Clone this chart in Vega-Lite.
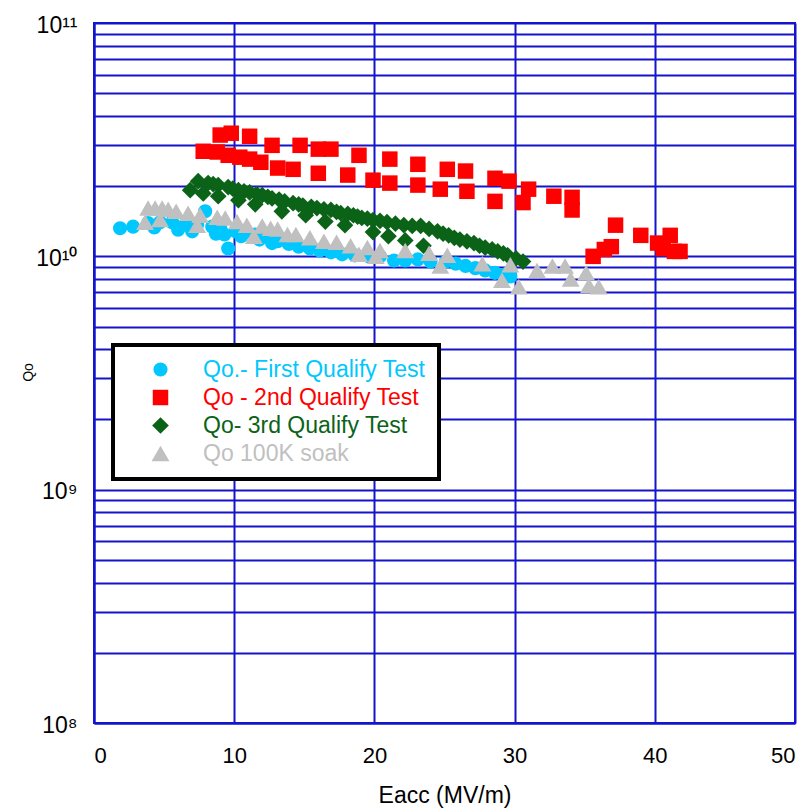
{
  "$schema": "https://vega.github.io/schema/vega-lite/v6.json",
  "width": 701,
  "height": 700,
  "autosize": {"type": "none"},
  "padding": {"left": 94, "top": 23, "right": 12, "bottom": 87},
  "background": "white",
  "config": {
    "view": {"stroke": "#1414cc", "strokeWidth": 2},
    "font": "Liberation Sans",
    "legend": {"strokeWidth": 4}
  },
  "data": {
    "values": [
      {"s":"Qo.- First Qualify Test","x":1.86,"q":1.32e10},{"s":"Qo.- First Qualify Test","x":2.79,"q":1.34e10},{"s":"Qo.- First Qualify Test","x":3.86,"q":1.39e10},{"s":"Qo.- First Qualify Test","x":4.3,"q":1.33e10},
      {"s":"Qo.- First Qualify Test","x":4.71,"q":1.40e10},{"s":"Qo.- First Qualify Test","x":5.57,"q":1.40e10},{"s":"Qo.- First Qualify Test","x":6.0,"q":1.30e10},{"s":"Qo.- First Qualify Test","x":6.5,"q":1.37e10},
      {"s":"Qo.- First Qualify Test","x":7.0,"q":1.28e10},{"s":"Qo.- First Qualify Test","x":7.36,"q":1.37e10},{"s":"Qo.- First Qualify Test","x":7.93,"q":1.56e10},{"s":"Qo.- First Qualify Test","x":8.43,"q":1.34e10},
      {"s":"Qo.- First Qualify Test","x":8.7,"q":1.25e10},{"s":"Qo.- First Qualify Test","x":9.0,"q":1.32e10},{"s":"Qo.- First Qualify Test","x":9.3,"q":1.24e10},{"s":"Qo.- First Qualify Test","x":9.57,"q":1.08e10},
      {"s":"Qo.- First Qualify Test","x":10.1,"q":1.28e10},{"s":"Qo.- First Qualify Test","x":10.5,"q":1.22e10},{"s":"Qo.- First Qualify Test","x":10.8,"q":1.27e10},{"s":"Qo.- First Qualify Test","x":11.5,"q":1.24e10},
      {"s":"Qo.- First Qualify Test","x":11.8,"q":1.18e10},{"s":"Qo.- First Qualify Test","x":12.2,"q":1.22e10},{"s":"Qo.- First Qualify Test","x":12.7,"q":1.14e10},{"s":"Qo.- First Qualify Test","x":13.1,"q":1.16e10},
      {"s":"Qo.- First Qualify Test","x":13.9,"q":1.13e10},{"s":"Qo.- First Qualify Test","x":14.6,"q":1.10e10},{"s":"Qo.- First Qualify Test","x":15.4,"q":1.08e10},{"s":"Qo.- First Qualify Test","x":16.1,"q":1.06e10},
      {"s":"Qo.- First Qualify Test","x":16.9,"q":1.04e10},{"s":"Qo.- First Qualify Test","x":17.7,"q":1.02e10},{"s":"Qo.- First Qualify Test","x":18.6,"q":1.01e10},{"s":"Qo.- First Qualify Test","x":19.6,"q":1.0e10},
      {"s":"Qo.- First Qualify Test","x":20.4,"q":1.0e10},{"s":"Qo.- First Qualify Test","x":21.4,"q":0.96e10},{"s":"Qo.- First Qualify Test","x":22.2,"q":0.96e10},{"s":"Qo.- First Qualify Test","x":23.1,"q":0.97e10},
      {"s":"Qo.- First Qualify Test","x":24.0,"q":0.95e10},{"s":"Qo.- First Qualify Test","x":25.1,"q":0.95e10},{"s":"Qo.- First Qualify Test","x":25.8,"q":0.93e10},{"s":"Qo.- First Qualify Test","x":26.5,"q":0.91e10},
      {"s":"Qo.- First Qualify Test","x":27.2,"q":0.89e10},{"s":"Qo.- First Qualify Test","x":27.9,"q":0.87e10},{"s":"Qo.- First Qualify Test","x":28.6,"q":0.85e10},{"s":"Qo.- First Qualify Test","x":29.4,"q":0.84e10},
      {"s":"Qo.- First Qualify Test","x":29.7,"q":0.82e10},

      {"s":"Qo - 2nd Qualify Test","x":7.79,"q":2.82e10},{"s":"Qo - 2nd Qualify Test","x":9.0,"q":3.31e10},{"s":"Qo - 2nd Qualify Test","x":9.79,"q":3.37e10},{"s":"Qo - 2nd Qualify Test","x":11.1,"q":3.27e10},
      {"s":"Qo - 2nd Qualify Test","x":8.79,"q":2.80e10},{"s":"Qo - 2nd Qualify Test","x":9.57,"q":2.71e10},{"s":"Qo - 2nd Qualify Test","x":10.4,"q":2.66e10},{"s":"Qo - 2nd Qualify Test","x":11.1,"q":2.61e10},
      {"s":"Qo - 2nd Qualify Test","x":11.9,"q":2.53e10},{"s":"Qo - 2nd Qualify Test","x":12.7,"q":2.99e10},{"s":"Qo - 2nd Qualify Test","x":13.1,"q":2.39e10},{"s":"Qo - 2nd Qualify Test","x":14.2,"q":2.36e10},
      {"s":"Qo - 2nd Qualify Test","x":14.7,"q":2.99e10},{"s":"Qo - 2nd Qualify Test","x":16.0,"q":2.88e10},{"s":"Qo - 2nd Qualify Test","x":16.9,"q":2.88e10},{"s":"Qo - 2nd Qualify Test","x":16.0,"q":2.27e10},
      {"s":"Qo - 2nd Qualify Test","x":18.1,"q":2.23e10},{"s":"Qo - 2nd Qualify Test","x":18.9,"q":2.71e10},{"s":"Qo - 2nd Qualify Test","x":19.9,"q":2.12e10},{"s":"Qo - 2nd Qualify Test","x":21.1,"q":2.61e10},
      {"s":"Qo - 2nd Qualify Test","x":21.1,"q":2.06e10},{"s":"Qo - 2nd Qualify Test","x":23.1,"q":2.48e10},{"s":"Qo - 2nd Qualify Test","x":23.1,"q":2.02e10},{"s":"Qo - 2nd Qualify Test","x":24.7,"q":1.94e10},
      {"s":"Qo - 2nd Qualify Test","x":25.2,"q":2.36e10},{"s":"Qo - 2nd Qualify Test","x":26.5,"q":2.32e10},{"s":"Qo - 2nd Qualify Test","x":26.6,"q":1.90e10},{"s":"Qo - 2nd Qualify Test","x":28.6,"q":2.16e10},
      {"s":"Qo - 2nd Qualify Test","x":28.6,"q":1.72e10},{"s":"Qo - 2nd Qualify Test","x":29.6,"q":2.10e10},{"s":"Qo - 2nd Qualify Test","x":30.6,"q":1.70e10},{"s":"Qo - 2nd Qualify Test","x":31.0,"q":1.94e10},
      {"s":"Qo - 2nd Qualify Test","x":32.8,"q":1.81e10},{"s":"Qo - 2nd Qualify Test","x":34.1,"q":1.79e10},{"s":"Qo - 2nd Qualify Test","x":34.1,"q":1.58e10},{"s":"Qo - 2nd Qualify Test","x":37.2,"q":1.36e10},
      {"s":"Qo - 2nd Qualify Test","x":35.6,"q":1.0e10},{"s":"Qo - 2nd Qualify Test","x":36.4,"q":1.07e10},{"s":"Qo - 2nd Qualify Test","x":36.9,"q":1.10e10},{"s":"Qo - 2nd Qualify Test","x":39.0,"q":1.23e10},
      {"s":"Qo - 2nd Qualify Test","x":40.2,"q":1.14e10},{"s":"Qo - 2nd Qualify Test","x":41.1,"q":1.23e10},{"s":"Qo - 2nd Qualify Test","x":41.4,"q":1.05e10},{"s":"Qo - 2nd Qualify Test","x":40.6,"q":1.08e10},
      {"s":"Qo - 2nd Qualify Test","x":41.8,"q":1.05e10},

      {"s":"Qo- 3rd Qualify Test","x":6.86,"q":1.92e10},{"s":"Qo- 3rd Qualify Test","x":7.43,"q":2.10e10},{"s":"Qo- 3rd Qualify Test","x":7.79,"q":1.86e10},{"s":"Qo- 3rd Qualify Test","x":8.14,"q":2.06e10},
      {"s":"Qo- 3rd Qualify Test","x":8.5,"q":2.04e10},{"s":"Qo- 3rd Qualify Test","x":8.86,"q":2.02e10},{"s":"Qo- 3rd Qualify Test","x":8.86,"q":1.81e10},{"s":"Qo- 3rd Qualify Test","x":9.57,"q":1.98e10},
      {"s":"Qo- 3rd Qualify Test","x":9.9,"q":1.95e10},{"s":"Qo- 3rd Qualify Test","x":10.3,"q":1.92e10},{"s":"Qo- 3rd Qualify Test","x":10.3,"q":1.74e10},{"s":"Qo- 3rd Qualify Test","x":10.7,"q":1.90e10},
      {"s":"Qo- 3rd Qualify Test","x":11.1,"q":1.88e10},{"s":"Qo- 3rd Qualify Test","x":11.5,"q":1.67e10},{"s":"Qo- 3rd Qualify Test","x":11.6,"q":1.85e10},{"s":"Qo- 3rd Qualify Test","x":12.0,"q":1.83e10},
      {"s":"Qo- 3rd Qualify Test","x":12.4,"q":1.80e10},{"s":"Qo- 3rd Qualify Test","x":12.7,"q":1.77e10},{"s":"Qo- 3rd Qualify Test","x":13.2,"q":1.75e10},{"s":"Qo- 3rd Qualify Test","x":13.4,"q":1.56e10},
      {"s":"Qo- 3rd Qualify Test","x":13.6,"q":1.72e10},{"s":"Qo- 3rd Qualify Test","x":14.2,"q":1.69e10},{"s":"Qo- 3rd Qualify Test","x":14.6,"q":1.67e10},{"s":"Qo- 3rd Qualify Test","x":14.9,"q":1.65e10},
      {"s":"Qo- 3rd Qualify Test","x":15.1,"q":1.50e10},{"s":"Qo- 3rd Qualify Test","x":15.5,"q":1.63e10},{"s":"Qo- 3rd Qualify Test","x":15.9,"q":1.61e10},{"s":"Qo- 3rd Qualify Test","x":16.5,"q":1.41e10},
      {"s":"Qo- 3rd Qualify Test","x":16.4,"q":1.59e10},{"s":"Qo- 3rd Qualify Test","x":16.9,"q":1.58e10},{"s":"Qo- 3rd Qualify Test","x":17.3,"q":1.55e10},{"s":"Qo- 3rd Qualify Test","x":17.6,"q":1.53e10},
      {"s":"Qo- 3rd Qualify Test","x":17.9,"q":1.36e10},{"s":"Qo- 3rd Qualify Test","x":18.1,"q":1.52e10},{"s":"Qo- 3rd Qualify Test","x":18.5,"q":1.50e10},{"s":"Qo- 3rd Qualify Test","x":18.8,"q":1.48e10},
      {"s":"Qo- 3rd Qualify Test","x":19.1,"q":1.46e10},{"s":"Qo- 3rd Qualify Test","x":19.5,"q":1.45e10},{"s":"Qo- 3rd Qualify Test","x":19.9,"q":1.27e10},{"s":"Qo- 3rd Qualify Test","x":19.9,"q":1.43e10},
      {"s":"Qo- 3rd Qualify Test","x":20.4,"q":1.42e10},{"s":"Qo- 3rd Qualify Test","x":20.9,"q":1.40e10},{"s":"Qo- 3rd Qualify Test","x":21.0,"q":1.22e10},{"s":"Qo- 3rd Qualify Test","x":21.5,"q":1.38e10},
      {"s":"Qo- 3rd Qualify Test","x":22.1,"q":1.36e10},{"s":"Qo- 3rd Qualify Test","x":22.2,"q":1.17e10},{"s":"Qo- 3rd Qualify Test","x":22.7,"q":1.35e10},{"s":"Qo- 3rd Qualify Test","x":23.3,"q":1.35e10},
      {"s":"Qo- 3rd Qualify Test","x":23.5,"q":1.11e10},{"s":"Qo- 3rd Qualify Test","x":23.9,"q":1.31e10},{"s":"Qo- 3rd Qualify Test","x":24.5,"q":1.28e10},{"s":"Qo- 3rd Qualify Test","x":24.9,"q":1.25e10},
      {"s":"Qo- 3rd Qualify Test","x":25.3,"q":1.23e10},{"s":"Qo- 3rd Qualify Test","x":25.7,"q":1.20e10},{"s":"Qo- 3rd Qualify Test","x":26.1,"q":1.18e10},{"s":"Qo- 3rd Qualify Test","x":26.6,"q":1.16e10},
      {"s":"Qo- 3rd Qualify Test","x":27.1,"q":1.14e10},{"s":"Qo- 3rd Qualify Test","x":27.5,"q":1.11e10},{"s":"Qo- 3rd Qualify Test","x":27.9,"q":1.09e10},{"s":"Qo- 3rd Qualify Test","x":28.4,"q":1.07e10},
      {"s":"Qo- 3rd Qualify Test","x":28.8,"q":1.05e10},{"s":"Qo- 3rd Qualify Test","x":29.2,"q":1.03e10},{"s":"Qo- 3rd Qualify Test","x":29.5,"q":1.01e10},{"s":"Qo- 3rd Qualify Test","x":30.1,"q":0.98e10},
      {"s":"Qo- 3rd Qualify Test","x":30.6,"q":0.95e10},

      {"s":"Qo 100K soak","x":3.64,"q":1.40e10},{"s":"Qo 100K soak","x":3.86,"q":1.61e10},{"s":"Qo 100K soak","x":4.36,"q":1.61e10},{"s":"Qo 100K soak","x":4.86,"q":1.61e10},
      {"s":"Qo 100K soak","x":5.29,"q":1.59e10},{"s":"Qo 100K soak","x":5.86,"q":1.56e10},{"s":"Qo 100K soak","x":4.71,"q":1.44e10},{"s":"Qo 100K soak","x":6.71,"q":1.53e10},
      {"s":"Qo 100K soak","x":7.57,"q":1.50e10},{"s":"Qo 100K soak","x":7.36,"q":1.36e10},{"s":"Qo 100K soak","x":8.79,"q":1.47e10},{"s":"Qo 100K soak","x":9.36,"q":1.46e10},
      {"s":"Qo 100K soak","x":10.2,"q":1.41e10},{"s":"Qo 100K soak","x":10.9,"q":1.36e10},{"s":"Qo 100K soak","x":11.4,"q":1.22e10},{"s":"Qo 100K soak","x":12.0,"q":1.35e10},
      {"s":"Qo 100K soak","x":12.6,"q":1.32e10},{"s":"Qo 100K soak","x":13.1,"q":1.31e10},{"s":"Qo 100K soak","x":13.8,"q":1.24e10},{"s":"Qo 100K soak","x":14.4,"q":1.24e10},
      {"s":"Qo 100K soak","x":15.4,"q":1.20e10},{"s":"Qo 100K soak","x":16.4,"q":1.16e10},{"s":"Qo 100K soak","x":17.3,"q":1.15e10},{"s":"Qo 100K soak","x":18.3,"q":1.11e10},
      {"s":"Qo 100K soak","x":18.9,"q":1.02e10},{"s":"Qo 100K soak","x":19.5,"q":1.09e10},{"s":"Qo 100K soak","x":20.1,"q":1.00e10},{"s":"Qo 100K soak","x":20.4,"q":1.06e10},
      {"s":"Qo 100K soak","x":22.2,"q":1.06e10},{"s":"Qo 100K soak","x":23.9,"q":1.03e10},{"s":"Qo 100K soak","x":24.7,"q":0.91e10},{"s":"Qo 100K soak","x":25.2,"q":1.01e10},
      {"s":"Qo 100K soak","x":27.7,"q":0.93e10},{"s":"Qo 100K soak","x":29.1,"q":0.79e10},{"s":"Qo 100K soak","x":29.7,"q":0.92e10},{"s":"Qo 100K soak","x":30.3,"q":0.74e10},
      {"s":"Qo 100K soak","x":31.6,"q":0.87e10},{"s":"Qo 100K soak","x":32.7,"q":0.91e10},{"s":"Qo 100K soak","x":33.6,"q":0.91e10},{"s":"Qo 100K soak","x":34.0,"q":0.80e10},
      {"s":"Qo 100K soak","x":35.1,"q":0.85e10},{"s":"Qo 100K soak","x":35.3,"q":0.75e10},{"s":"Qo 100K soak","x":36.0,"q":0.74e10}
    ]
  },
  "mark": {"type": "point", "filled": true, "opacity": 1, "strokeWidth": 0},
  "encoding": {
    "x": {
      "field": "x", "type": "quantitative",
      "scale": {"domain": [0, 50], "nice": false, "zero": false},
      "axis": {
        "values": [0, 10, 20, 30, 40, 50],
        "title": "Eacc (MV/m)",
        "titleFontSize": 23, "titleFontWeight": "normal", "titleColor": "black",
        "titlePadding": 18,
        "labelFontSize": 22, "labelColor": "black", "labelPadding": 22,
        "ticks": false,
        "domainColor": "#1414cc", "domainWidth": 2,
        "grid": true, "gridColor": "#1414cc", "gridWidth": 2, "gridOpacity": 1
      }
    },
    "y": {
      "field": "q", "type": "quantitative",
      "scale": {"type": "log", "domain": [1e8, 1e11], "nice": false},
      "axis": {
        "values": [1e8, 2e8, 3e8, 4e8, 5e8, 6e8, 7e8, 8e8, 9e8, 1e9, 2e9, 3e9, 4e9, 5e9, 6e9, 7e9, 8e9, 9e9, 1e10, 2e10, 3e10, 4e10, 5e10, 6e10, 7e10, 8e10, 9e10, 1e11],
        "labelExpr": "datum.value == 1e11 ? '10¹¹' : datum.value == 1e10 ? '10¹⁰' : datum.value == 1e9 ? '10⁹' : datum.value == 1e8 ? '10⁸' : ''",
        "title": "Qo",
        "titleFontSize": 14, "titleFontWeight": "normal", "titleColor": "black",
        "titleX": -59, "titleY": 349, "titleAngle": -90,
        "labelFontSize": 23, "labelColor": "black", "labelPadding": 17,
        "labelBaseline": "middle", "labelOffset": 2,
        "ticks": false,
        "domainColor": "#1414cc", "domainWidth": 2,
        "grid": true, "gridColor": "#1414cc", "gridWidth": 2, "gridOpacity": 1
      }
    },
    "color": {
      "field": "s", "type": "nominal",
      "scale": {"domain": ["Qo.- First Qualify Test", "Qo - 2nd Qualify Test", "Qo- 3rd Qualify Test", "Qo 100K soak"], "range": ["#00c8ff", "#ff0000", "#0b6318", "#c0c0c0"]},
      "legend": {
        "orient": "none", "legendX": 19, "legendY": 322,
        "title": null,
        "labelFontSize": 23, "labelLimit": 400, "labelOffset": 31,
        "labelColor": {"expr": "scale('color', datum.value)"},
        "symbolSize": 180, "symbolOffset": 23, "symbolStrokeWidth": 0,
        "rowPadding": 4,
        "padding": 13,
        "fillColor": "white", "strokeColor": "black"
      }
    },
    "shape": {
      "field": "s", "type": "nominal",
      "scale": {"domain": ["Qo.- First Qualify Test", "Qo - 2nd Qualify Test", "Qo- 3rd Qualify Test", "Qo 100K soak"], "range": ["circle", "square", "diamond", "triangle-up"]},
      "legend": {
        "orient": "none", "legendX": 19, "legendY": 322,
        "title": null,
        "labelFontSize": 23, "labelLimit": 400, "labelOffset": 31,
        "labelColor": {"expr": "scale('color', datum.value)"},
        "symbolSize": 180, "symbolOffset": 23, "symbolStrokeWidth": 0,
        "rowPadding": 4,
        "padding": 13,
        "fillColor": "white", "strokeColor": "black"
      }
    },
    "size": {
      "field": "s", "type": "ordinal",
      "scale": {"domain": ["Qo.- First Qualify Test", "Qo - 2nd Qualify Test", "Qo- 3rd Qualify Test", "Qo 100K soak"], "range": [200, 320, 170, 230]},
      "legend": null
    }
  }
}
